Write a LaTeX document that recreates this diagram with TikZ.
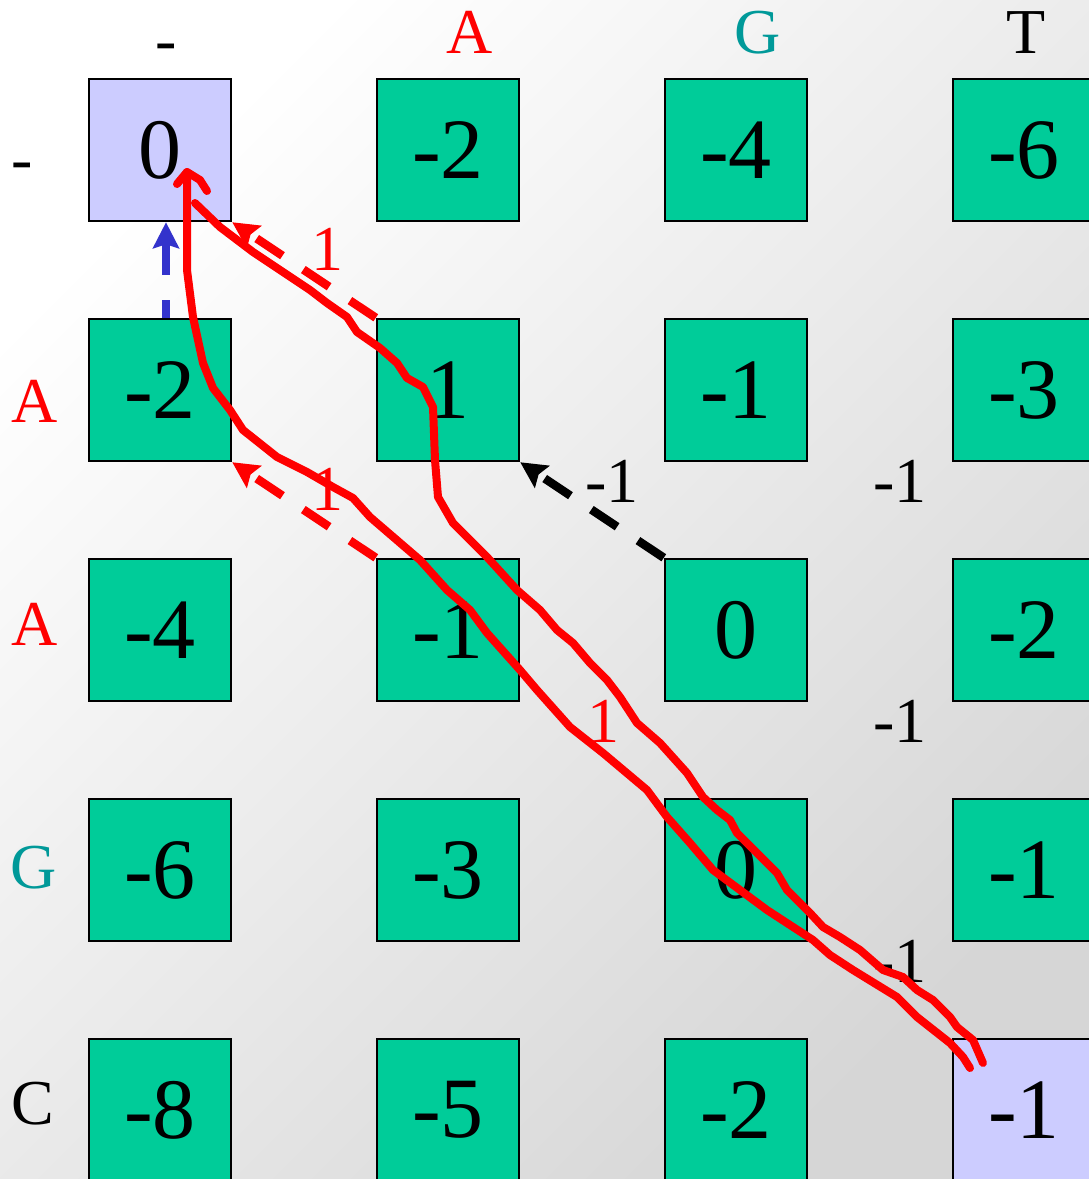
\documentclass[tikz,border=0pt]{standalone}
\usepackage{fontspec}
\setmainfont{Liberation Serif}
\usetikzlibrary{arrows.meta}
\definecolor{cellgreen}{HTML}{00CC99}
\definecolor{celllav}{HTML}{CCCCFF}
\definecolor{tealG}{HTML}{009999}
\definecolor{arrblue}{HTML}{3333CC}
\definecolor{pred}{HTML}{FF0000}
\tikzset{
  cell/.style={draw=black, line width=2.5pt, minimum width=142pt, minimum height=142pt,
    inner sep=0pt, fill=cellgreen, font=\fontsize{86}{90}\selectfont},
  cellend/.style={cell, fill=celllav},
  lab/.style={font=\fontsize{64}{68}\selectfont, anchor=base, inner sep=0pt},
  dasharrow/.style={line width=8.5pt, dash pattern=on 31pt off 25pt,
    -{Stealth[length=26pt,width=26pt,inset=4pt]}},
  trace/.style={draw=pred, line width=8pt, line join=round, line cap=round},
}
\begin{document}
\begin{tikzpicture}[x=1pt,y=-1pt]
\useasboundingbox (0,0) rectangle (1089,1179);
\begin{scope}
\clip (0,0) rectangle (1089,1179);
\shade[top color=white, bottom color=black!16, shading angle=45] (0,0) rectangle (1089,1179);

% header labels
\node[lab] (hd) at (166,61) {-};
\node[lab, text=pred] (hA) at (470,53) {A};
\node[lab, text=tealG] (hG) at (758,53) {G};
\node[lab] (hT) at (1026,53) {T};
% row labels
\node[lab] (rd) at (22,180) {-};
\node[lab, text=pred] (rA1) at (35,422) {A};
\node[lab, text=pred] (rA2) at (35,645) {A};
\node[lab, text=tealG] (rG) at (34,888) {G};
\node[lab] (rC) at (33,1124) {C};

% cells
\node[cellend] (c00) at (160,150) {0};
\node[cell] (c01) at (448,150) {-2};
\node[cell] (c02) at (736,150) {-4};
\node[cell] (c03) at (1024,150) {-6};
\node[cell] (c10) at (160,390) {-2};
\node[cell] (c11) at (448,390) {1};
\node[cell] (c12) at (736,390) {-1};
\node[cell] (c13) at (1024,390) {-3};
\node[cell] (c20) at (160,630) {-4};
\node[cell] (c21) at (448,630) {-1};
\node[cell] (c22) at (736,630) {0};
\node[cell] (c23) at (1024,630) {-2};
\node[cell] (c30) at (160,870) {-6};
\node[cell] (c31) at (448,870) {-3};
\node[cell] (c32) at (736,870) {0};
\node[cell] (c33) at (1024,870) {-1};
\node[cell] (c40) at (160,1110) {-8};
\node[cell] (c41) at (448,1110) {-5};
\node[cell] (c42) at (736,1110) {-2};
\node[cellend] (c43) at (1024,1110) {-1};

% edge labels
\node[lab, text=pred] (l1) at (327,270) {1};
\node[lab, text=pred] (l2) at (327,510) {1};
\node[lab, text=pred] (l3) at (603,742) {1};
\node[lab] (m1) at (612,502) {-1};
\node[lab] (m2) at (900,502) {-1};
\node[lab] (m3) at (900,742) {-1};
\node[lab] (m4) at (900,982) {-1};

% dashed arrows
\draw[dasharrow, draw=arrblue, dash phase=13pt] ([xshift=6pt]c10.north) -- ([xshift=6pt]c00.south);
\draw[dasharrow, draw=pred] (c11.north west) -- (c00.south east);
\draw[dasharrow, draw=pred] (c21.north west) -- (c10.south east);
\draw[dasharrow, draw=black] (c22.north west) -- (c11.south east);

% freehand traceback paths
\coordinate (tA) at (187,172);
\draw[trace] (177,184) -- (tA) -- (200,180) -- (207,191);
\draw[trace] (tA) -- (187,270) -- (193,317) -- (203,363) -- (213,388) -- (230,410) -- (243,430)
  -- (277,457) -- (307,472) -- (333,487) -- (353,498) -- (370,517) -- (420,560) -- (447,590)
  -- (470,610) -- (487,633) -- (520,670) -- (537,690) -- (570,727) -- (603,753) -- (647,790)
  -- (667,817) -- (690,843) -- (713,870) -- (767,910) -- (813,940) -- (830,955) -- (853,970)
  -- (897,997) -- (917,1017) -- (950,1043) -- (963,1057) -- (970,1068);
\draw[trace] (195,203) -- (220,227) -- (253,252) -- (280,270) -- (310,290) -- (327,303)
  -- (347,317) -- (357,332) -- (380,348) -- (397,363) -- (407,378) -- (423,387) -- (433,407)
  -- (435,460) -- (438,497) -- (453,523) -- (487,557) -- (517,590) -- (540,610) -- (557,630)
  -- (573,643) -- (590,663) -- (607,680) -- (620,697) -- (637,723) -- (660,743) -- (687,773)
  -- (703,797) -- (717,810) -- (730,820) -- (737,833) -- (757,853) -- (777,873) -- (787,890)
  -- (810,913) -- (823,927) -- (840,937) -- (860,950) -- (883,970) -- (903,977) -- (917,990)
  -- (933,1000) -- (950,1017) -- (957,1027) -- (973,1040) -- (983,1063);
\end{scope}
\end{tikzpicture}
\end{document}
